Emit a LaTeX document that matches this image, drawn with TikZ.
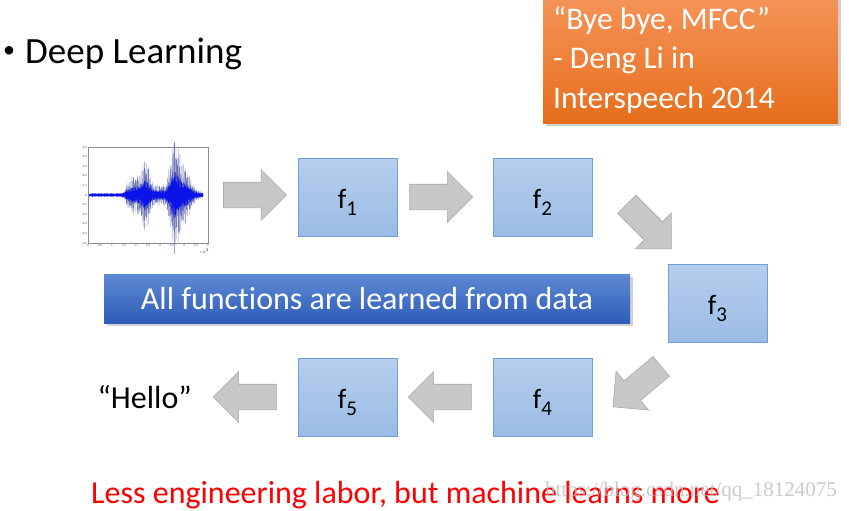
\documentclass[tikz,border=0pt]{standalone}
\usepackage{fontspec}
\setmainfont{Carlito}[Ligatures=NoCommon]
\newfontfamily\markfont{Liberation Serif}
\usetikzlibrary{positioning,shapes.arrows,shadows}

\definecolor{ftop}{HTML}{B6CEED}
\definecolor{fbot}{HTML}{9BBBE5}
\definecolor{fline}{HTML}{6F9FDA}
\definecolor{gfill}{HTML}{C8C8C8}
\definecolor{gline}{HTML}{A9A9A9}
\definecolor{otop}{HTML}{F59459}
\definecolor{obot}{HTML}{E66E1C}
\definecolor{btop}{HTML}{5E89D3}
\definecolor{bbot}{HTML}{2E5DB8}
\definecolor{wavecol}{HTML}{0A14E6}
\definecolor{waveout}{HTML}{7078B8}

\newcommand{\sizept}[1]{\fontsize{#1}{#1}\selectfont}
\newcommand{\fsub}[1]{f\raisebox{-7.5pt}{\sizept{21}#1}}

\tikzset{
  fbox/.style={draw=fline, line width=0.8pt, top color=ftop, bottom color=fbot,
    minimum width=99pt, minimum height=78pt, inner sep=0pt,
    text height=22pt, text depth=0pt, font=\sizept{28}},
  garrow/.style={single arrow, draw=gline, fill=gfill, line width=0.6pt,
    minimum height=63pt, minimum width=50pt, single arrow head extend=12.5pt,
    inner xsep=0pt, inner ysep=12.5pt},
  slidetext/.style={inner sep=0pt, font=\sizept{32}},
  qtext/.style={inner sep=0pt, text=white, font=\sizept{31.5}},
  ticklab/.style={inner sep=0.4pt, font=\sizept{3.2}, text=black!70},
}

\begin{document}
\begin{tikzpicture}[x=1pt, y=-1pt,
    declare function={
      sstep(\t)=1/(1+exp(-min(max(\t,-9),9)));
      wenv(\t)=0.008+0.10*sstep(22*(\t-1.55))*sstep(12*(4.4-\t))
        +0.04*sstep(10*(4.8-\t))*sstep(22*(\t-3.3))
        +0.10*exp(-min(((\t-1.95)/0.3)^2,9))
        +0.28*exp(-min(((\t-2.4)/0.2)^2,9))
        +0.46*exp(-min(((\t-3.62)/0.22)^2,9))
        +0.16*exp(-min(((\t-4.0)/0.25)^2,9));
      wt(\n)=0.05+0.01*\n;
      wsgn(\n)=1-2*mod(\n,2);
      wrnd(\n)=sqrt(abs(sin(31.7*\n)*cos(23.3*\n)));
    }]
  \useasboundingbox[fill=white] (0,0) rectangle (849,511);

  % title line
  \node[inner sep=0pt, anchor=base west, font=\sizept{24}] (bullet) at (3,58) {•};
  \node[slidetext, anchor=base west, font=\sizept{37}] (title) at (25,63.5) {Deep Learning};

  % quote box
  \node[draw=none, top color=otop, bottom color=obot, minimum width=295pt, minimum height=128pt,
    inner sep=0pt, anchor=north west,
    drop shadow={shadow xshift=3pt, shadow yshift=-3pt, opacity=0.35}] (quote) at (543,-5) {};
  \node[qtext, anchor=base west] (q1) at (553,30) {“Bye bye, MFCC”};
  \node[qtext, anchor=base west] (q2) at (553,69) {- Deng Li in};
  \node[qtext, anchor=base west] (q3) at (553,108) {Interspeech 2014};

  % waveform
  \node[draw=black!45, line width=0.3pt, fill=white, minimum width=120pt, minimum height=96pt,
    inner sep=0pt] (wave) at (148,195) {};
  \draw[waveout, line width=0.3pt] plot[domain=0:475, samples=476]
    ({88+24*wt(\x)},{195-96*wsgn(\x)*wenv(wt(\x))*(0.15+0.85*wrnd(\x))});
  \draw[wavecol, line width=0.3pt] plot[domain=0:475, samples=476]
    ({88+24*wt(\x)},{195-96*wsgn(\x)*(0.006+0.38*wenv(wt(\x)))*(0.45+0.55*abs(sin(29.1*\x+40)))});
  \foreach \v in {0.5,0.4,0.3,0.2,0.1,0,-0.1,-0.2,-0.3,-0.4,-0.5}
    \node[ticklab, anchor=east] at (87.5,{195-96*\v}) {\v};
  \foreach \v in {0,0.5,1,1.5,2,2.5,3,3.5,4,4.5,5}
    \node[ticklab, anchor=north] at ({88+24*\v},243.5) {\v};
  \node[ticklab, anchor=north east] (wscale) at (210,248) {x 10$^4$};

  % function boxes
  \node[fbox] (f1) at (347.5,197) {\fsub{1}};
  \node[fbox] (f2) at (542.5,197) {\fsub{2}};
  \node[fbox] (f3) at (717.5,303) {\fsub{3}};
  \node[fbox] (f4) at (542.5,397) {\fsub{4}};
  \node[fbox] (f5) at (347.5,397) {\fsub{5}};

  % block arrows
  \node[garrow, right=15pt of wave] (a1) {};
  \node[garrow, right=12pt of f1] (a2) {};
  \node[garrow, rotate=-45] (a3) at (644.5,222) {};
  \node[garrow, rotate=-140] (a4) at (642,382.5) {};
  \node[garrow, shape border rotate=180, left=21pt of f4] (a5) {};
  \node[garrow, shape border rotate=180, left=21pt of f5] (a6) {};

  % output
  \node[slidetext, anchor=base east] (hello) at (192,408.5) {“Hello”};

  % banner
  \node[top color=btop, bottom color=bbot, minimum width=526pt, minimum height=49pt, inner sep=0pt,
    text=white, font=\sizept{32},
    drop shadow={shadow xshift=2.5pt, shadow yshift=-2.5pt, opacity=0.35}] (learn) at (367,298.5)
    {All functions are learned from data};

  % bottom line
  \node[slidetext, anchor=base west, text=red] (labor) at (91,503) {Less engineering labor, but machine learns more};
  \node[inner sep=0pt, anchor=base east, font=\markfont\sizept{21}, text=black!25, opacity=0.8] (mark)
    at (837,496) {https://blog.csdn.net/qq\_18124075};
\end{tikzpicture}
\end{document}
